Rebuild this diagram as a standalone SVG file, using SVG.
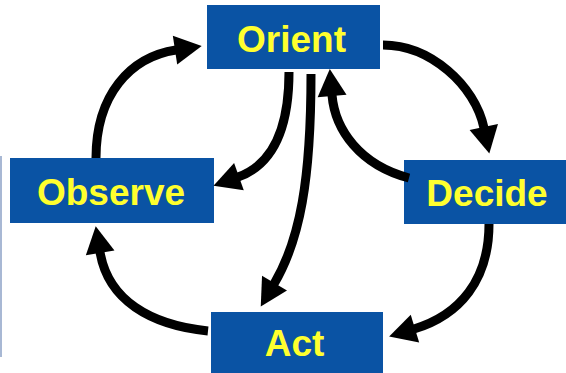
<svg xmlns="http://www.w3.org/2000/svg" width="566" height="373" viewBox="0 0 566 373">
<style>
.box{fill:#0A53A4}
.lbl{fill:#FFFF2E;font-family:"Liberation Sans",Arial,sans-serif;font-weight:bold;font-size:37px;text-anchor:middle}
.arr{fill:none;stroke:#000;stroke-width:9;marker-end:url(#ah)}
</style>
<defs>
<marker id="ah" markerUnits="userSpaceOnUse" markerWidth="30" markerHeight="30" refX="0" refY="0" orient="auto" overflow="visible">
<path d="M-1,-14.5 L26,0 L-1,14.5 z" fill="#000"/>
</marker>
</defs>
<rect x="0" y="156" width="2" height="201" fill="#A8B8D4"/>
<g id="orient"><rect class="box" x="207" y="5" width="173" height="64"/><text class="lbl" x="291.5" y="52">Orient</text></g>
<g id="observe"><rect class="box" x="10" y="158" width="204" height="65"/><text class="lbl" x="111" y="205">Observe</text></g>
<g id="decide"><rect class="box" x="404" y="160" width="162" height="64"/><text class="lbl" x="487" y="206">Decide</text></g>
<g id="act"><rect class="box" x="211" y="312" width="172" height="61"/><text class="lbl" x="294.5" y="356">Act</text></g>
<g id="connectors">
<path class="arr" d="M96,158 C96,95 130,57 176,50"/>
<path class="arr" d="M383,45 C430,45 475,85 484,128"/>
<path class="arr" d="M409,178 C360,165 335,130 332,95"/>
<path class="arr" d="M289,72 C289,130 272,165 238,177"/>
<path class="arr" d="M311,74 C311,180 300,240 274,284"/>
<path class="arr" d="M489,224 C489,280 460,315 414,329"/>
<path class="arr" d="M208,331 C150,325 108,300 100,252"/>
</g>
</svg>
